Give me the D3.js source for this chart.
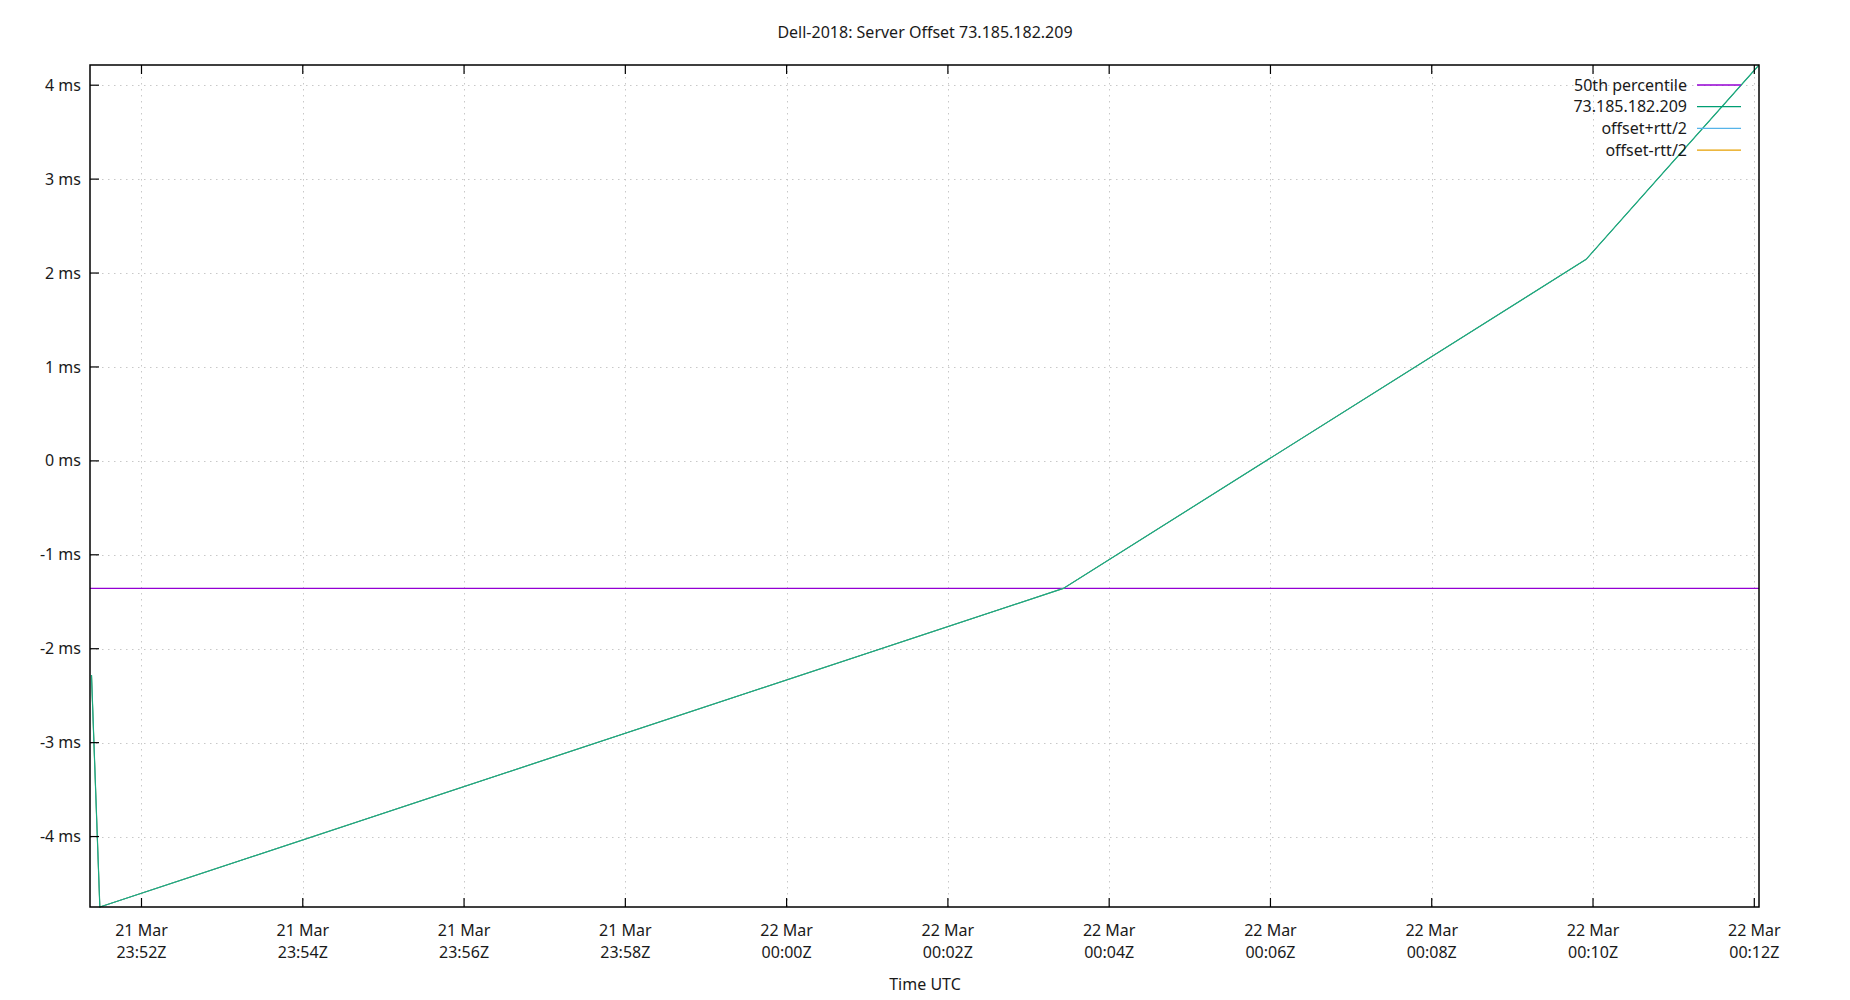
<!DOCTYPE html>
<html>
<head>
<meta charset="utf-8">
<script src="https://cdn.jsdelivr.net/npm/d3@7"></script>
<style>
  html, body { margin: 0; padding: 0; background: #fff; }
  svg text { font-family: "Noto Sans", "Open Sans", sans-serif; fill: #1a1a1a; }
</style>
</head>
<body>
<svg id="chart" width="1850" height="1000"></svg>
<script>
const chartTitle = "Dell-2018: Server Offset 73.185.182.209";
const xAxisTitle = "Time UTC";
const times = ["2023-03-21T23:51:22.8Z", "2023-03-21T23:51:29.0Z", "2023-03-22T00:03:25.9Z", "2023-03-22T00:09:54.9Z", "2023-03-22T00:12:03.5Z"];
const offsets = [-2.28, -4.75, -1.358, 2.146, 4.215];
const offsetPlusRtt = [-2.28, -4.75, -1.358, 2.146, 4.215];
const offsetMinusRtt = [-2.28, -4.75, -1.358, 2.146, 4.215];
const median = -1.358;
const yTicks = [-4, -3, -2, -1, 0, 1, 2, 3, 4];
const legendLabels = ["50th percentile", "73.185.182.209", "offset+rtt/2", "offset-rtt/2"];
const colors = ["#9400d3", "#009e73", "#56b4e9", "#e69f00"];

const svg = d3.select("#chart");
const L = 90, R = 1759, T = 65, B = 907;
const FS = 16;
const dates = times.map(t => new Date(t));
const allVals = offsets.concat(offsetPlusRtt, offsetMinusRtt);

const x = d3.scaleUtc().domain(d3.extent(dates)).range([L + 1.5, R]);
const y = d3.scaleLinear().domain(d3.extent(allVals)).range([B, T]);

const xTicks = x.ticks(d3.utcMinute.every(2));

// grid
const grid = svg.append("g");
grid.selectAll(".gx").data(xTicks).join("line")
  .attr("x1", d => Math.round(x(d)) + 0.5).attr("x2", d => Math.round(x(d)) + 0.5)
  .attr("y1", T).attr("y2", B)
  .attr("stroke", "#c8c8c8").attr("stroke-width", 1).attr("stroke-dasharray", "1.5,4.5");
grid.selectAll(".gy").data(yTicks).join("line")
  .attr("y1", d => Math.round(y(d)) + 0.5).attr("y2", d => Math.round(y(d)) + 0.5)
  .attr("x1", L).attr("x2", R)
  .attr("stroke", "#c8c8c8").attr("stroke-width", 1).attr("stroke-dasharray", "1.5,4.5");

// clip
svg.append("clipPath").attr("id", "clip").append("rect")
  .attr("x", L).attr("y", T - 1).attr("width", R - L).attr("height", B - T + 2);
const plot = svg.append("g").attr("clip-path", "url(#clip)");

const line = d3.line().x((d, i) => x(dates[i])).y(d => y(d));

// median line
plot.append("line")
  .attr("x1", L).attr("x2", R)
  .attr("y1", y(median)).attr("y2", y(median))
  .attr("stroke", colors[0]).attr("stroke-width", 1.3);

plot.append("path").datum(offsetMinusRtt).attr("d", line)
  .attr("fill", "none").attr("stroke", colors[3]).attr("stroke-width", 1);
plot.append("path").datum(offsetPlusRtt).attr("d", line)
  .attr("fill", "none").attr("stroke", colors[2]).attr("stroke-width", 1);
plot.append("path").datum(offsets).attr("d", line)
  .attr("fill", "none").attr("stroke", "#1aa97e").attr("stroke-width", 1.2);

// border
svg.append("rect").attr("x", L).attr("y", T).attr("width", R - L).attr("height", B - T)
  .attr("fill", "none").attr("stroke", "#000").attr("stroke-width", 1.5);

// y ticks
const yt = svg.append("g");
yTicks.forEach(v => {
  const yy = y(v);
  yt.append("line").attr("x1", L).attr("x2", L + 9).attr("y1", yy).attr("y2", yy)
    .attr("stroke", "#000").attr("stroke-width", 1.2);
  yt.append("text").attr("x", 81).attr("y", yy).attr("dy", "0.35em")
    .attr("text-anchor", "end").attr("font-size", FS).text(v + " ms");
});

// x ticks
const fmtDay = d3.utcFormat("%-d %b");
const fmtTime = d3.utcFormat("%H:%MZ");
const xt = svg.append("g");
xTicks.forEach(d => {
  const xx = x(d);
  xt.append("line").attr("x1", xx).attr("x2", xx).attr("y1", B).attr("y2", B - 9)
    .attr("stroke", "#000").attr("stroke-width", 1.2);
  xt.append("line").attr("x1", xx).attr("x2", xx).attr("y1", T).attr("y2", T + 9)
    .attr("stroke", "#000").attr("stroke-width", 1.2);
  const t = xt.append("text").attr("text-anchor", "middle").attr("font-size", FS);
  t.append("tspan").attr("x", xx).attr("y", 936).text(fmtDay(d));
  t.append("tspan").attr("x", xx).attr("y", 958).text(fmtTime(d));
});

// titles
svg.append("text").attr("x", 925).attr("y", 38).attr("text-anchor", "middle")
  .attr("font-size", FS).text(chartTitle);
svg.append("text").attr("x", 925).attr("y", 990).attr("text-anchor", "middle")
  .attr("font-size", FS).text(xAxisTitle);

// legend
const lg = svg.append("g");
legendLabels.forEach((lab, i) => {
  const yy = 85 + i * 21.7;
  lg.append("text").attr("x", 1687).attr("y", yy).attr("dy", "0.35em")
    .attr("text-anchor", "end").attr("font-size", FS).text(lab);
  lg.append("line").attr("x1", 1697).attr("x2", 1741).attr("y1", yy).attr("y2", yy)
    .attr("stroke", colors[i]).attr("stroke-width", 1.3);
});
</script>
</body>
</html>
